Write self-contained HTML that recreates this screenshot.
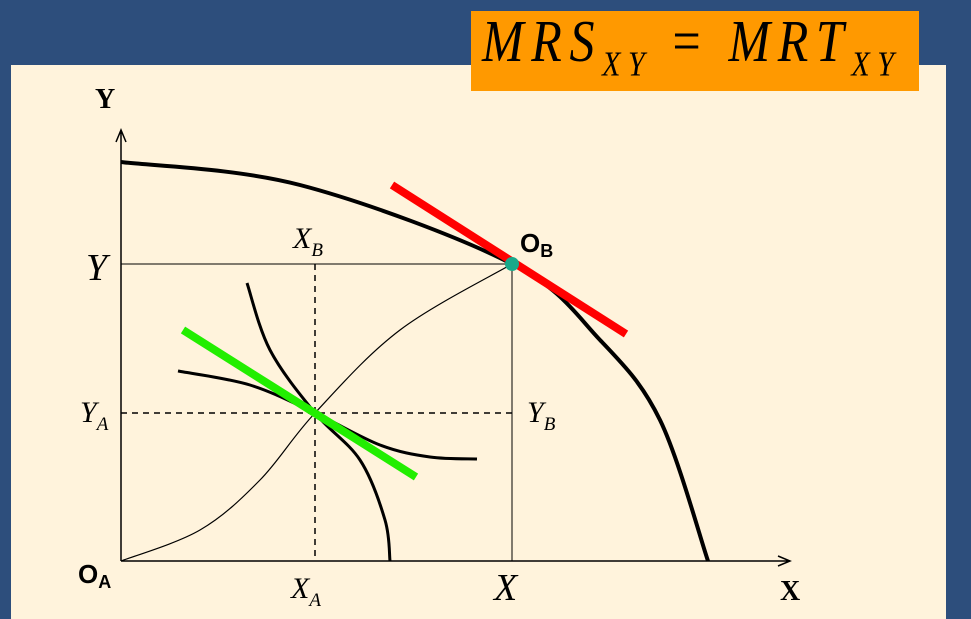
<!DOCTYPE html>
<html><head><meta charset="utf-8"><style>
html,body{margin:0;padding:0;background:#2d4e7c;}
svg{display:block}
</style></head><body>
<svg width="971" height="619" xmlns="http://www.w3.org/2000/svg">
<rect x="0" y="0" width="971" height="619" fill="#2d4e7c"/>
<rect x="11" y="65" width="935" height="554" fill="#fff3dc"/>
<rect x="471" y="11" width="448" height="80" fill="#ff9900"/>
<g transform="translate(0,-12) scale(1,1.18)">
<text x="482" y="62" font-family="Liberation Serif, serif" font-style="italic" font-size="50" fill="#000" textLength="412" lengthAdjust="spacing">MRS<tspan font-size="30" dy="12">XY</tspan><tspan font-style="normal" dy="-12"> = </tspan>MRT<tspan font-size="30" dy="12">XY</tspan></text>
</g>
<g id="g"></g>
<g font-family="Liberation Serif, serif" fill="#000">
<text x="95" y="108" font-size="28" font-weight="bold">Y</text>
<text x="780" y="600" font-size="28" font-weight="bold">X</text>
<text x="86" y="280" font-size="38" font-style="italic">Y</text>
<text x="494" y="600" font-size="38" font-style="italic">X</text>
<text x="80" y="422" font-size="30" font-style="italic">Y<tspan font-size="19" dy="8">A</tspan></text>
<text x="527" y="422" font-size="30" font-style="italic">Y<tspan font-size="19" dy="8">B</tspan></text>
<text x="293" y="248" font-size="30" font-style="italic">X<tspan font-size="19" dy="8">B</tspan></text>
<text x="291" y="598" font-size="30" font-style="italic">X<tspan font-size="19" dy="8">A</tspan></text>
</g>
<g font-family="Liberation Sans, sans-serif" font-weight="bold" fill="#000">
<text x="78" y="583" font-size="26">O<tspan font-size="18" dy="5">A</tspan></text>
<text x="520" y="252" font-size="26">O<tspan font-size="18" dy="5">B</tspan></text>
</g>
</svg>
<script>
const ppfX=[0,179,391,479,539,587];
const ppfY=[399,376,297,221,141,0];
const contractX=[0,79,139,194,279,391];
const contractY=[0,31,81,148,231,297];
const icAX=[126,149,194,239,264,269];
const icAY=[278,211,148,101,41,0];
const icBX=[57,129,194,259,309,356];
const icBY=[190,176,148,116,104,102];
const pointA=[194,148];
const pointB=[391,297];
const greenX=[62,295]; const greenY=[231,84];
const redX=[271,505]; const redY=[376,227];
const sx=v=>121+v, sy=v=>561-v;
const NS='http://www.w3.org/2000/svg';
const g=document.getElementById('g');
function mk(t,a){const e=document.createElementNS(NS,t);for(const k in a)e.setAttribute(k,a[k]);g.appendChild(e);return e;}
function smooth(xs,ys){const p=xs.map((x,i)=>[sx(x),sy(ys[i])]);let d='M'+p[0];for(let i=0;i<p.length-1;i++){const p0=p[i-1]||p[i],p1=p[i],p2=p[i+1],p3=p[i+2]||p2;const c1=[p1[0]+(p2[0]-p0[0])/6,p1[1]+(p2[1]-p0[1])/6],c2=[p2[0]-(p3[0]-p1[0])/6,p2[1]-(p3[1]-p1[1])/6];d+=' C'+c1+' '+c2+' '+p2;}return d;}
let e;
e=mk('line',{x1:sx(0),y1:sy(pointB[1]),x2:sx(pointB[0]),y2:sy(pointB[1]),stroke:'#000','stroke-width':1});

e=mk('line',{x1:sx(pointB[0]),y1:sy(pointB[1]),x2:sx(pointB[0]),y2:sy(0),stroke:'#000','stroke-width':1});

e=mk('line',{x1:sx(pointA[0]),y1:sy(pointB[1]),x2:sx(pointA[0]),y2:sy(0),stroke:'#000','stroke-width':1.5,'stroke-dasharray':'6,5'});

e=mk('line',{x1:sx(0),y1:sy(pointA[1]),x2:sx(pointB[0]),y2:sy(pointA[1]),stroke:'#000','stroke-width':1.5,'stroke-dasharray':'6,5'});

e=mk('path',{d:'M121,561 L121,130 M116,142 L121,130 L126,142 M121,561 L790,561 M778,556 L790,561 L778,566',stroke:'#000','stroke-width':1.5,fill:'none'});

e=mk('path',{d:smooth(contractX,contractY),stroke:'#000','stroke-width':1.2,fill:'none'});

e=mk('path',{d:smooth(icAX,icAY),stroke:'#000','stroke-width':3,fill:'none'});

e=mk('path',{d:smooth(icBX,icBY),stroke:'#000','stroke-width':3,fill:'none'});

e=mk('path',{d:smooth(ppfX,ppfY),stroke:'#000','stroke-width':4,fill:'none'});

e=mk('line',{x1:sx(greenX[0]),y1:sy(greenY[0]),x2:sx(greenX[1]),y2:sy(greenY[1]),stroke:'#22ee00','stroke-width':8});

e=mk('line',{x1:sx(redX[0]),y1:sy(redY[0]),x2:sx(redX[1]),y2:sy(redY[1]),stroke:'#ff0000','stroke-width':8});

e=mk('circle',{cx:sx(pointB[0]),cy:sy(pointB[1]),r:7,fill:'#1aa88a'});

</script>
</body></html>
